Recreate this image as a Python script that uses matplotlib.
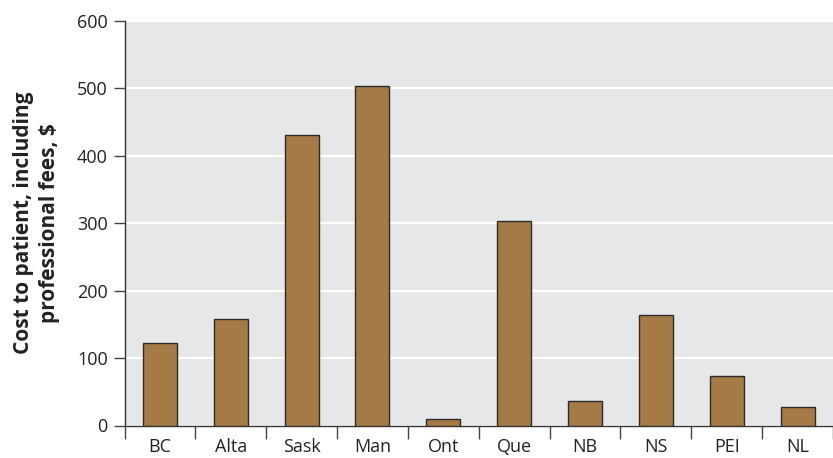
import matplotlib
matplotlib.use("Agg")
import matplotlib.pyplot as plt
import numpy as np

provinces = ["BC", "Alta", "Sask", "Man", "Ont", "Que", "NB", "NS", "PEI", "NL"]
costs = [123, 158, 431, 504, 9, 304, 36, 164, 74, 27]
y_ticks = [0, 100, 200, 300, 400, 500, 600]
y_label = "Cost to patient, including\nprofessional fees, $"

plt.rcParams["font.family"] = ["Open Sans", "DejaVu Sans"]

fig = plt.figure(figsize=(8.33, 4.58), dpi=100)
ax = fig.add_axes([124.5 / 833, 1 - 425.5 / 458, 1 - 124.5 / 833, (425.5 - 21) / 458])
ax.set_facecolor("#e6e7e9")

x = np.arange(len(provinces))
ax.bar(x, costs, width=0.48, color="#a67a46", edgecolor="#2b2b2b", linewidth=1.0, zorder=3)

ax.set_ylim(0, 600)
ax.set_xlim(-0.5, -0.5 + (833 - 124.5) / 71.7)
ax.set_yticks(y_ticks)
ax.set_yticklabels([str(v) for v in y_ticks], fontsize=13, color="#222222")
ax.yaxis.grid(True, color="white", linewidth=1.5, zorder=0)
ax.set_axisbelow(True)

ax.set_xticks(x)
ax.set_xticklabels(provinces, fontsize=13, color="#222222")
ax.set_xticks(np.arange(-0.5, len(provinces) - 0.4, 1), minor=True)
ax.tick_params(axis="x", which="major", length=0, pad=9)
ax.tick_params(axis="x", which="minor", length=9, width=1, color="#444444", direction="out")
ax.tick_params(axis="y", length=8, width=1, color="#444444", direction="out", pad=4)

for s in ["top", "right"]:
    ax.spines[s].set_visible(False)
for s in ["left", "bottom"]:
    ax.spines[s].set_color("#333333")
    ax.spines[s].set_linewidth(1.0)

ax.set_ylabel(y_label, fontsize=15, fontweight="bold", color="#222222", labelpad=12, linespacing=1.3)

fig.savefig("out.png", dpi=100)
